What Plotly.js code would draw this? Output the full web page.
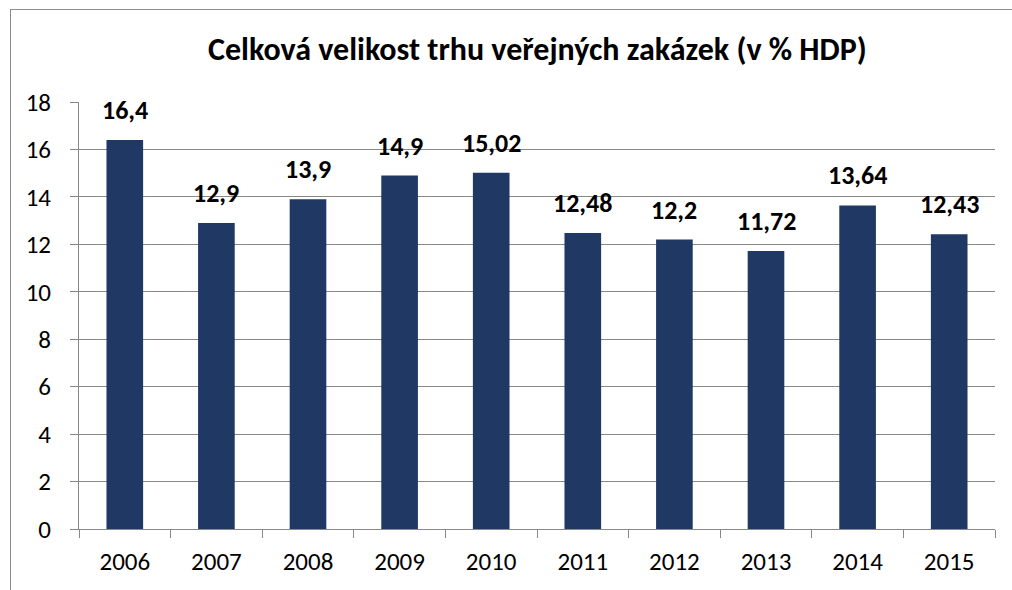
<!DOCTYPE html>
<html><head><meta charset="utf-8">
<script src="https://cdn.plot.ly/plotly-3.0.1.min.js"></script>
<style>
html,body{margin:0;padding:0;background:#fff;}
#wrap{position:relative;width:1012px;height:590px;}
#chart{width:1012px;height:590px;}
#frame{position:absolute;left:10px;top:9px;width:1010px;height:590px;border:1px solid #8c8c8c;box-sizing:border-box;pointer-events:none;}
</style></head>
<body>
<div id="wrap"><div id="chart"></div><div id="frame"></div></div>
<script>
const years = ['2006','2007','2008','2009','2010','2011','2012','2013','2014','2015'];
const values = [16.4, 12.9, 13.9, 14.9, 15.02, 12.48, 12.2, 11.72, 13.64, 12.43];
const labels = ['16,4','12,9','13,9','14,9','15,02','12,48','12,2','11,72','13,64','12,43'];
const yTicks = [0,2,4,6,8,10,12,14,16,18];

const font = 'Carlito, Calibri, Lato, "Open Sans", sans-serif';
const annotations = years.map((yr, i) => ({
  x: i, y: values[i], xref: 'x', yref: 'y',
  text: '<b>' + labels[i] + '</b>', showarrow: false,
  yanchor: 'bottom', yshift: 12,
  font: {family: font, size: 26, color: '#000'}
}));
Plotly.newPlot('chart', [{
  type: 'bar',
  x: years,
  y: values,
  marker: {color: '#203864'},
  hoverinfo: 'x+y'
}], {
  width: 1012, height: 590,
  margin: {l: 79, r: 17, t: 102, b: 61},
  paper_bgcolor: '#fff', plot_bgcolor: '#fff',
  bargap: 0.6,
  annotations: annotations,
  title: {text: '<b>Celková velikost trhu veřejných zakázek (v % HDP)</b>', x: 0.531, xanchor: 'center', y: 0.918, yanchor: 'middle',
    font: {family: font, size: 32, color: '#000'}},
  xaxis: {type: 'category', range: [-0.5, years.length - 0.5], showline: true, linecolor: '#888', linewidth: 1,
    ticks: 'outside', tickson: 'boundaries', ticklen: 8, tickcolor: '#888', ticklabelstandoff: 10,
    tickfont: {family: font, size: 25, color: '#000'}, showgrid: false},
  yaxis: {range: [0, 18], tickvals: yTicks, showline: true, linecolor: '#888', linewidth: 1,
    ticks: 'outside', ticklen: 8, tickcolor: '#888', gridcolor: '#888', gridwidth: 1, ticklabelstandoff: 14,
    tickfont: {family: font, size: 25, color: '#000'}, zeroline: false},
  showlegend: false
}, {displayModeBar: false});
</script>
</body></html>
